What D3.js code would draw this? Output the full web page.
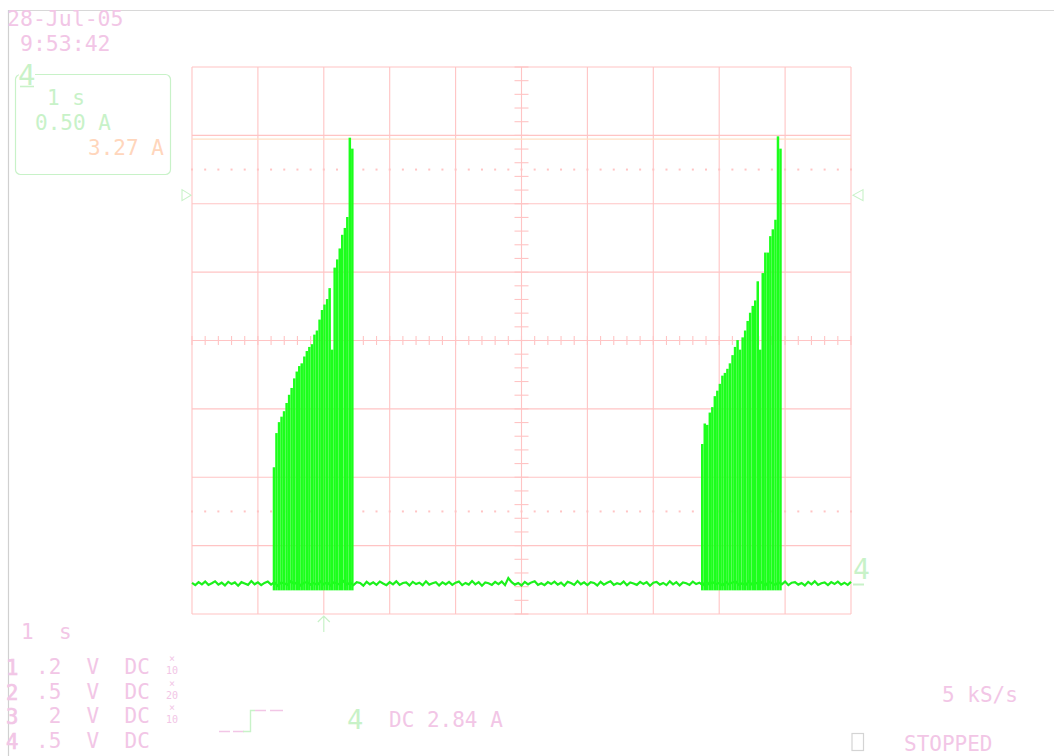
<!DOCTYPE html>
<html><head><meta charset="utf-8">
<script src="https://cdn.jsdelivr.net/npm/d3@7/dist/d3.min.js"></script>
<style>html,body{margin:0;padding:0;background:#fff;}svg{display:block;}</style>
</head><body>
<script>
// ---- data ----
const timeDomain = [-2, 8];            // s (1 s/div, trigger at 0)
const ampDomain = [-0.223, 3.777];     // A (0.50 A/div, ground marker "4")
const triggerLevel = 2.84;             // A
const cursorLevel = 3.25;              // A (orange cursor)
const pulseWidth = 0.0378;             // s
const burst1Times = [-0.775,-0.737,-0.698,-0.660,-0.622,-0.583,-0.545,-0.507,-0.467,-0.429,-0.391,-0.354,-0.314,-0.276,-0.238,-0.199,-0.161,-0.123,-0.083,-0.046,-0.008,0.032,0.070,0.108,0.146,0.185,0.223,0.261,0.301,0.338,0.376,0.414];
const burst1Peaks = [0.85,1.10,1.18,1.22,1.26,1.32,1.38,1.43,1.50,1.55,1.59,1.61,1.66,1.70,1.73,1.75,1.82,1.85,1.93,2.00,2.04,2.08,2.16,1.71,2.31,2.37,2.45,2.55,2.60,2.68,3.26,3.18];
const burst2Times = [5.724,5.762,5.800,5.839,5.877,5.915,5.953,5.992,6.030,6.068,6.106,6.144,6.184,6.222,6.260,6.297,6.337,6.375,6.413,6.451,6.490,6.528,6.566,6.604,6.642,6.681,6.719,6.757,6.795,6.835,6.873,6.911];
const burst2Peaks = [1.02,1.17,1.16,1.25,1.29,1.37,1.41,1.46,1.52,1.54,1.57,1.61,1.67,1.73,1.78,1.71,1.80,1.85,1.92,1.98,2.03,2.07,2.21,1.71,2.27,2.42,2.42,2.54,2.59,2.66,3.27,3.18];
const pulseLow = -0.05;                // A, bottom of pulses
const baselineStep = 0.05;             // s
const baseline = [
0.004,-0.012,0.010,-0.006,0.014,-0.010,0.002,0.016,-0.008,0.006,-0.014,0.012,-0.004,0.008,-0.016,0.010,0.000,-0.010,0.018,-0.006,
0.008,-0.012,0.004,0.014,-0.008,0.010,-0.016,0.006,0.002,-0.010,0.016,-0.004,0.012,-0.014,0.006,0.010,-0.008,0.004,-0.012,0.014,
-0.006,0.010,-0.014,0.008,0.002,-0.010,0.018,-0.008,0.006,-0.012,0.010,0.004,-0.016,0.012,-0.006,0.008,-0.010,0.014,0.000,-0.012,
0.010,-0.006,0.016,-0.010,0.004,0.008,-0.014,0.012,-0.004,0.006,-0.012,0.016,-0.008,0.002,0.010,-0.014,0.008,-0.006,0.012,-0.010,
0.006,0.014,-0.012,0.004,-0.008,0.018,-0.006,0.010,-0.016,0.008,0.002,-0.010,0.012,-0.004,0.014,-0.012,0.040,0.010,-0.008,0.004,
-0.014,0.012,-0.006,0.008,0.016,-0.010,0.002,-0.012,0.010,-0.004,0.014,-0.008,0.006,-0.016,0.012,0.004,-0.010,0.018,-0.006,0.008,
-0.012,0.010,0.004,-0.014,0.012,-0.008,0.006,0.016,-0.010,0.002,-0.006,0.014,-0.012,0.008,0.000,-0.010,0.012,-0.004,0.010,-0.016,
0.006,0.012,-0.008,0.004,-0.012,0.016,-0.006,0.010,-0.014,0.008,0.002,-0.010,0.014,-0.004,0.006,-0.012,0.018,-0.008,0.010,-0.006,
0.004,-0.014,0.012,-0.006,0.008,0.014,-0.010,0.002,-0.012,0.016,-0.008,0.006,-0.004,0.010,-0.016,0.012,0.004,-0.010,0.008,-0.006,
0.014,-0.012,0.006,0.010,-0.008,0.004,-0.014,0.012,-0.006,0.016,-0.010,0.002,0.008,-0.012,0.010,-0.004,0.014,-0.008,0.006,-0.010,
0.012];
const horizDivs = d3.range(0, 11);     // graticule divisions
const vertDivs = d3.range(-4, 5);
const minorTicks = d3.range(0, 10.01, 0.2);
const minorTicksV = d3.range(-4, 4.01, 0.2);
const dottedDivs = [2.5, -2.5];
const dateLabel = "28-Jul-05";
const timeLabel = " 9:53:42";
const boxLines = ["1 s", "0.50 A", "3.27 A"];
const horizLabel = "1  s";
const channelRows = [["1", ".2  V  DC", "10"], ["2", ".5  V  DC", "20"], ["3", " 2  V  DC", "10"], ["4", ".5  V  DC", null]];
const trigLabel = "DC 2.84 A";
const rateLabel = "5 kS/s";
const statusLabel = "STOPPED";

// ---- drawing ----
const W = 1054, H = 756;
const L = 192, R = 851, T = 67, B = 614;
const svg = d3.select("body").append("svg").attr("width", W).attr("height", H);
const gx = d3.scaleLinear().domain([0, 10]).range([L, R]);
const gy = d3.scaleLinear().domain([-4, 4]).range([B, T]);
const x = d3.scaleLinear().domain(timeDomain).range([L, R]);
const y = d3.scaleLinear().domain(ampDomain).range([B, T]);

const PINK = "#f2c6e6", GREEN_T = "#c8f2c8", ORANGE = "#ffd6bc", GRID = "#ffc4c4";
const FONT = "DejaVu Sans Mono";

// page border
svg.append("line").attr("x1", 8).attr("x2", W).attr("y1", 10.5).attr("y2", 10.5).attr("stroke", "#d8d8d8").attr("stroke-width", 1.2);
svg.append("line").attr("x1", 8.5).attr("x2", 8.5).attr("y1", 10).attr("y2", H).attr("stroke", "#d0d0d0").attr("stroke-width", 1.2);

// graticule
const grid = svg.append("g").attr("stroke", GRID).attr("stroke-width", 1.1).attr("fill", "none");
grid.selectAll(".v").data(horizDivs).join("line")
  .attr("x1", d => gx(d)).attr("x2", d => gx(d)).attr("y1", T).attr("y2", B);
grid.selectAll(".h").data(vertDivs).join("line")
  .attr("x1", L).attr("x2", R).attr("y1", d => gy(d)).attr("y2", d => gy(d));
// center line ticks
grid.selectAll(".th").data(minorTicks).join("line")
  .attr("x1", d => gx(d)).attr("x2", d => gx(d)).attr("y1", gy(0) - 4.5).attr("y2", gy(0) + 4.5);
grid.selectAll(".tv").data(minorTicksV).join("line")
  .attr("x1", gx(5) - 7).attr("x2", gx(5) + 7).attr("y1", d => gy(d)).attr("y2", d => gy(d));
// dotted rise-time lines
dottedDivs.forEach(dv => {
  grid.selectAll(null).data(minorTicks).join("line")
    .attr("x1", d => gx(d) - 1).attr("x2", d => gx(d) + 1)
    .attr("y1", gy(dv)).attr("y2", gy(dv)).attr("stroke-width", 2);
});
// orange cursor
svg.append("line").attr("x1", L).attr("x2", R).attr("y1", y(cursorLevel)).attr("y2", y(cursorLevel))
  .attr("stroke", "#ffe0c4").attr("stroke-width", 1.2);

// baseline trace
const baseData = baseline.map((v, i) => [timeDomain[0] + i * baselineStep, v]);
svg.append("path").datum(baseData)
  .attr("d", d3.line().x(d => x(d[0])).y(d => y(d[1])))
  .attr("fill", "none").attr("stroke", "#1cf01c").attr("stroke-width", 2.2);

// pulses
const pulses = burst1Times.map((t, i) => ({t, p: burst1Peaks[i]}))
  .concat(burst2Times.map((t, i) => ({t, p: burst2Peaks[i]})));
svg.append("g").selectAll("rect").data(pulses).join("rect")
  .attr("x", d => x(d.t)).attr("width", d => x(d.t + pulseWidth) - x(d.t))
  .attr("y", d => y(d.p)).attr("height", d => y(pulseLow) - y(d.p))
  .attr("fill", "#1cff1c");

// trigger level markers
const ty = y(triggerLevel);
svg.append("path").attr("d", `M${L - 10},${ty - 5.5}L${L - 1},${ty}L${L - 10},${ty + 5.5}Z`)
  .attr("fill", "none").attr("stroke", GREEN_T).attr("stroke-width", 1.1);
svg.append("path").attr("d", `M${R + 12},${ty - 5.5}L${R + 2},${ty}L${R + 12},${ty + 5.5}Z`)
  .attr("fill", "none").attr("stroke", GREEN_T).attr("stroke-width", 1.1);
// ground marker "4"
const gyy = y(0);
svg.append("text").attr("x", R + 2).attr("y", gyy - 5).text("4")
  .attr("font-family", FONT).attr("font-size", 28).attr("fill", GREEN_T);
svg.append("line").attr("x1", R + 2).attr("x2", R + 13).attr("y1", gyy + 1).attr("y2", gyy + 1)
  .attr("stroke", GREEN_T).attr("stroke-width", 2);
// trigger position arrow
const tx = x(0);
svg.append("path").attr("d", `M${tx},${B + 2}V${B + 18}M${tx - 6},${B + 8}L${tx},${B + 2}L${tx + 6},${B + 8}`)
  .attr("fill", "none").attr("stroke", GREEN_T).attr("stroke-width", 1.2);

// texts
function txt(s, xx, yy, size, col, extra) {
  const t = svg.append("text").attr("x", xx).attr("y", yy).text(s)
    .attr("font-family", FONT).attr("font-size", size).attr("fill", col)
    .style("white-space", "pre").attr("xml:space", "preserve");
  if (extra) extra(t);
  return t;
}
txt(dateLabel, 7, 26, 21.5, PINK);
txt(timeLabel, 7, 51, 21.5, PINK);

// info box
svg.append("rect").attr("x", 15.5).attr("y", 74.5).attr("width", 155).attr("height", 100).attr("rx", 5)
  .attr("fill", "none").attr("stroke", GREEN_T).attr("stroke-width", 1.2);
svg.append("rect").attr("x", 19).attr("y", 70).attr("width", 16).attr("height", 16).attr("fill", "#fff");
txt("4", 18, 85, 29, GREEN_T);
svg.append("line").attr("x1", 20).attr("x2", 34).attr("y1", 86.5).attr("y2", 86.5).attr("stroke", GREEN_T).attr("stroke-width", 1.6);
txt(boxLines[0], 47, 105, 21, GREEN_T);
txt(boxLines[1], 35, 130, 21, GREEN_T);
txt(boxLines[2], 88, 155, 21, ORANGE);

// bottom left
txt(horizLabel, 21, 639, 21, PINK);
const rowY = [674, 699, 723, 748];
channelRows.forEach((r, i) => {
  txt(r[0], 6, rowY[i] + 1, 20.5, PINK, t => t.attr("stroke", PINK).attr("stroke-width", 0.7));
  txt(r[1], 36, rowY[i], 21, PINK);
  if (r[2]) {
    txt("×", 172, rowY[i] - 12, 10, PINK, t => t.attr("text-anchor", "middle"));
    txt(r[2], 172, rowY[i], 10, PINK, t => t.attr("text-anchor", "middle"));
  }
});

// trigger symbol
svg.append("path").attr("d", "M219,731.5H230M233,731.5H244M255,710.5H266M270,710.5H283")
  .attr("stroke", PINK).attr("stroke-width", 1.4).attr("fill", "none");
svg.append("path").attr("d", "M243,731.5H250.5V710.5H255")
  .attr("stroke", GREEN_T).attr("stroke-width", 1.4).attr("fill", "none");
txt("4", 347, 729, 27, GREEN_T);
txt(trigLabel, 389, 727, 21, PINK);

// bottom right
txt(rateLabel, 942, 702, 21, PINK);
svg.append("rect").attr("x", 852).attr("y", 733.5).attr("width", 11.5).attr("height", 17)
  .attr("fill", "none").attr("stroke", "#d4d4d4").attr("stroke-width", 1.2);
txt(statusLabel, 904, 751, 21, PINK);
</script>
</body></html>
